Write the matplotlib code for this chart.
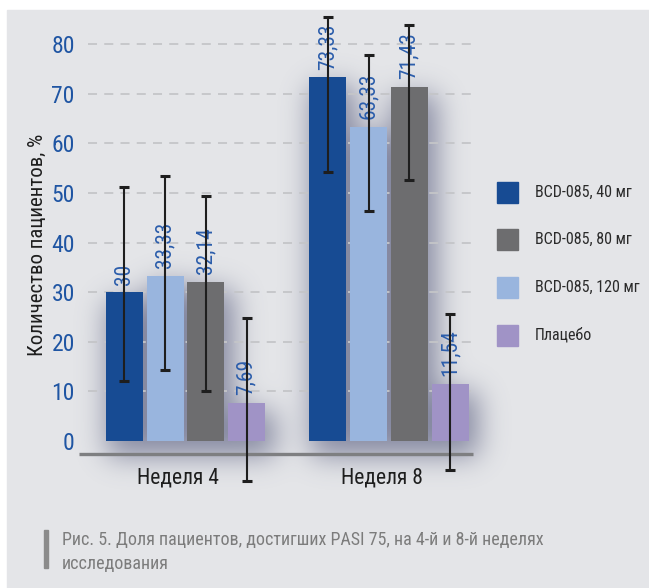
import numpy as np
import matplotlib
matplotlib.use("Agg")
import matplotlib.pyplot as plt
from matplotlib.patches import Rectangle

plt.rcParams['font.family'] = ['Roboto Condensed', 'DejaVu Sans']

# data
groups = ['Неделя 4', 'Неделя 8']
series = ['BCD-085, 40 мг', 'BCD-085, 120 мг', 'BCD-085, 80 мг', 'Плацебо']
values = [
    [30, 73.33],
    [33.33, 63.33],
    [32.14, 71.43],
    [7.69, 11.54],
]
value_labels = [
    ['30', '73,33'],
    ['33,33', '63,33'],
    ['32,14', '71,43'],
    ['7,69', '11,54'],
]
err_upper = [
    [51.3, 85.5],
    [53.5, 77.9],
    [49.3, 83.9],
    [24.8, 25.6],
]
err_lower = [
    [12.1, 54.2],
    [14.4, 46.4],
    [10.1, 52.6],
    [-8.1, -5.8],
]
colors = ['#174b93', '#99b5de', '#6d6d6f', '#a093c6']
legend_order = [0, 2, 1, 3]   # legend lists 40, 80, 120, placebo

W, H = 649, 588
fig = plt.figure(figsize=(W / 100, H / 100), dpi=100, facecolor='white')

def fx(x):
    return x / W

def fy(y):
    return 1 - y / H

# light gray panel
fig.patches.append(Rectangle((fx(7), 0), 1 - fx(7), fy(10), transform=fig.transFigure,
                             color='#e4e5e8', zorder=-3))

# axes placed by pixels: y=0 at 441px, 4.96 px per unit; group 0 at 185.5px, 203.5 px per group
ymin, ymax = -10, 87
top_px = 441 - ymax * 4.96
bot_px = 441 - ymin * 4.96
ax = fig.add_axes([fx(79), fy(bot_px), 396 / W, (bot_px - top_px) / H])
ax.set_facecolor('none')
xl, xr = (79 - 185.5) / 203.5, (475 - 185.5) / 203.5
ax.set_xlim(xl, xr)
ax.set_ylim(ymin, ymax)

x = np.arange(len(groups))
bw = 0.182
step = 0.2

# grid and base line
ax.hlines(range(10, 90, 10), (88 - 185.5) / 203.5, xr, colors='#c4c5c8',
          linestyles=(0, (5, 4)), lw=1.3, zorder=0)
ax.hlines((441 - 454) / 4.96, xl, (473 - 185.5) / 203.5, colors='#7e7f81', lw=2.4, zorder=1)

bars = []
for i in range(len(series)):
    xs = x + (i - 1.5) * step
    vals = np.array(values[i])
    b = ax.bar(xs, vals, bw, color=colors[i], zorder=2)
    bars.append(b)
    ax.errorbar(xs, vals, yerr=[vals - np.array(err_lower[i]), np.array(err_upper[i]) - vals],
                fmt='none', ecolor='#1e1e1e', elinewidth=1.5, capsize=3.3, capthick=2.2, zorder=4)
    for xx, v, lab in zip(xs, vals, value_labels[i]):
        ax.text(xx, v + 1.5, lab, rotation=90, ha='center', va='bottom',
                color='#2b5dab', fontsize=15.5, zorder=3)

for xx, g in zip(x, groups):
    ax.text(xx - 0.035, (441 - 478) / 4.96, g, ha='center', va='center', fontsize=15.5, color='#1e1e1e')

ax.set_yticks(range(0, 90, 10))
ax.set_xticks([])
ax.tick_params(axis='y', length=0, pad=3, labelsize=17, labelcolor='#1f55a3')
for s in ax.spines.values():
    s.set_visible(False)

fig.text(fx(37), fy(245), 'Количество пациентов, %', rotation=90, ha='center', va='center',
         fontsize=15, color='#1e1e1e')

# soft shadow behind the bars
fig.canvas.draw()
mask = np.zeros((H, W))
for b in bars:
    for r in b.patches:
        (x0, y0), (x1, y1) = ax.transData.transform([(r.get_x(), 0), (r.get_x() + r.get_width(), r.get_height())])
        mask[int(y0) - 14:int(y1) - 8, int(x0) + 2:int(x1) + 10] = 1
k = np.exp(-0.5 * (np.arange(-45, 46) / 14.0) ** 2)
k /= k.sum()
mask = np.apply_along_axis(lambda m: np.convolve(m, k, mode='same'), 0, mask)
mask = np.apply_along_axis(lambda m: np.convolve(m, k, mode='same'), 1, mask)
rgba = np.zeros((H, W, 4))
rgba[..., 0], rgba[..., 1], rgba[..., 2] = 0.28, 0.30, 0.45
rgba[..., 3] = 0.6 * mask
fig.figimage(rgba, 0, 0, origin='lower', zorder=-2)

# legend
ly = [192.5, 239.5, 287, 335]
for yy, i in zip(ly, legend_order):
    fig.patches.append(Rectangle((fx(497), fy(yy + 10.5)), 21 / W, 21 / H,
                                 transform=fig.transFigure, color=colors[i]))
    fig.text(fx(535), fy(yy), series[i], ha='left', va='center', fontsize=11.5, color='#2a2a2a')

# caption
fig.patches.append(Rectangle((fx(44), fy(568)), 4 / W, 38 / H, transform=fig.transFigure, color='#8b8b8b'))
fig.text(fx(62), fy(552), 'Рис. 5. Доля пациентов, достигших PASI 75, на 4-й и 8-й неделях\nисследования',
         ha='left', va='center', fontsize=13, color='#7c7c7c', linespacing=1.39)

fig.savefig('out.png', dpi=100, facecolor='white')
